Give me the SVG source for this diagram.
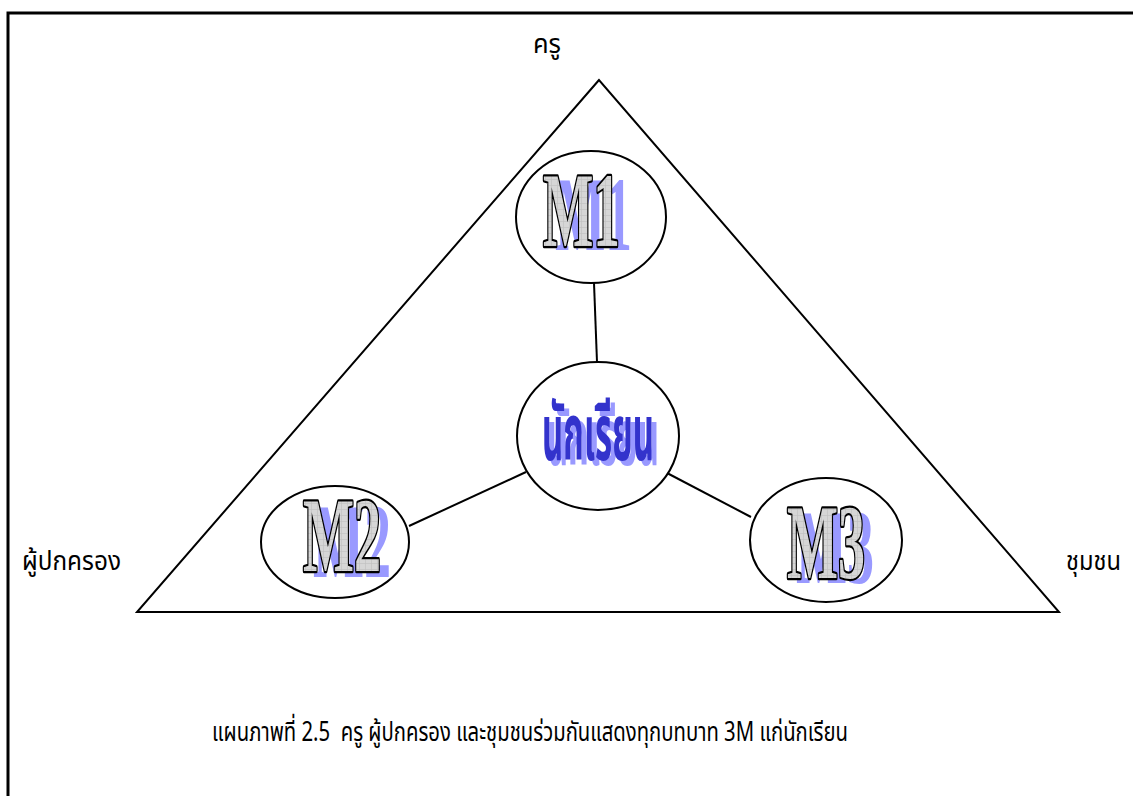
<svg xmlns="http://www.w3.org/2000/svg" width="1133" height="796" viewBox="0 0 1133 796">
<defs>
<pattern id="hatch" width="6" height="6" patternUnits="userSpaceOnUse">
<rect width="6" height="6" fill="#d6d6d6"/>
<path d="M0 5.5H6M5.5 0V6" stroke="#c2c2c2" stroke-width="0.7"/>
</pattern>
<style>
.frame{fill:none;stroke:#000;stroke-width:3}
.tri{fill:none;stroke:#000;stroke-width:2}
.ell{fill:#fff;stroke:#000;stroke-width:2}
.conn{stroke:#000;stroke-width:2;fill:none}
.lbl{font-family:"Noto Sans Thai","Noto Sans Thai UI",Tahoma,Loma,Garuda,"DejaVu Sans",sans-serif;font-size:26px;fill:#000}
.cap{font-size:27px}
.mt{font-family:"Liberation Serif","Times New Roman",serif;font-weight:bold;font-size:106px}
.mfg{fill:url(#hatch);stroke:#000;stroke-width:4.5;paint-order:stroke;stroke-linejoin:round}
.msh{fill:#9999ff}
.st{font-family:"Noto Sans Thai","Noto Sans Thai UI",Tahoma,Loma,Garuda,"DejaVu Sans",sans-serif;font-weight:bold;font-size:78px}
</style>
</defs>
<rect width="1133" height="796" fill="#fff"/>
<path class="frame" d="M8 796V13H1136"/>
<path class="tri" d="M599 80L137 612H1059Z"/>
<g id="connectors">
<line class="conn" x1="594" y1="283" x2="597" y2="362"/>
<line class="conn" x1="526" y1="472" x2="409" y2="526"/>
<line class="conn" x1="667" y1="473" x2="751" y2="517"/>
</g>
<g id="node-m1">
<ellipse class="ell" cx="591" cy="217" rx="75" ry="66"/>
<text class="mt msh" x="555" y="250" textLength="77" lengthAdjust="spacingAndGlyphs">M1</text>
<text class="mt mfg" x="543" y="246" textLength="77" lengthAdjust="spacingAndGlyphs">M1</text>
</g>
<g id="node-student">
<ellipse class="ell" cx="598" cy="436" rx="81" ry="74"/>
<text class="st" x="547" y="465" fill="#9999ff" textLength="112" lengthAdjust="spacingAndGlyphs">นักเรียน</text>
<text class="st" x="542" y="460" fill="#3333cc" textLength="112" lengthAdjust="spacingAndGlyphs">นักเรียน</text>
</g>
<g id="node-m2">
<ellipse class="ell" cx="335" cy="542" rx="74" ry="56"/>
<text class="mt msh" x="313" y="577" textLength="78" lengthAdjust="spacingAndGlyphs">M2</text>
<text class="mt mfg" x="303" y="571" textLength="78" lengthAdjust="spacingAndGlyphs">M2</text>
</g>
<g id="node-m3">
<ellipse class="ell" cx="826" cy="540" rx="76" ry="62"/>
<text class="mt msh" x="796" y="583" textLength="78" lengthAdjust="spacingAndGlyphs">M3</text>
<text class="mt mfg" x="787" y="578" textLength="78" lengthAdjust="spacingAndGlyphs">M3</text>
</g>
<g id="labels">
<text class="lbl" x="533" y="53" textLength="28" lengthAdjust="spacingAndGlyphs">ครู</text>
<text class="lbl" x="22" y="570" textLength="99" lengthAdjust="spacingAndGlyphs">ผู้ปกครอง</text>
<text class="lbl" x="1066" y="570" textLength="55" lengthAdjust="spacingAndGlyphs">ชุมชน</text>
<text class="lbl cap" x="212" y="741" xml:space="preserve" textLength="636" lengthAdjust="spacingAndGlyphs">แผนภาพที่ 2.5  ครู ผู้ปกครอง และชุมชนร่วมกันแสดงทุกบทบาท 3M แก่นักเรียน</text>
</g>
</svg>
